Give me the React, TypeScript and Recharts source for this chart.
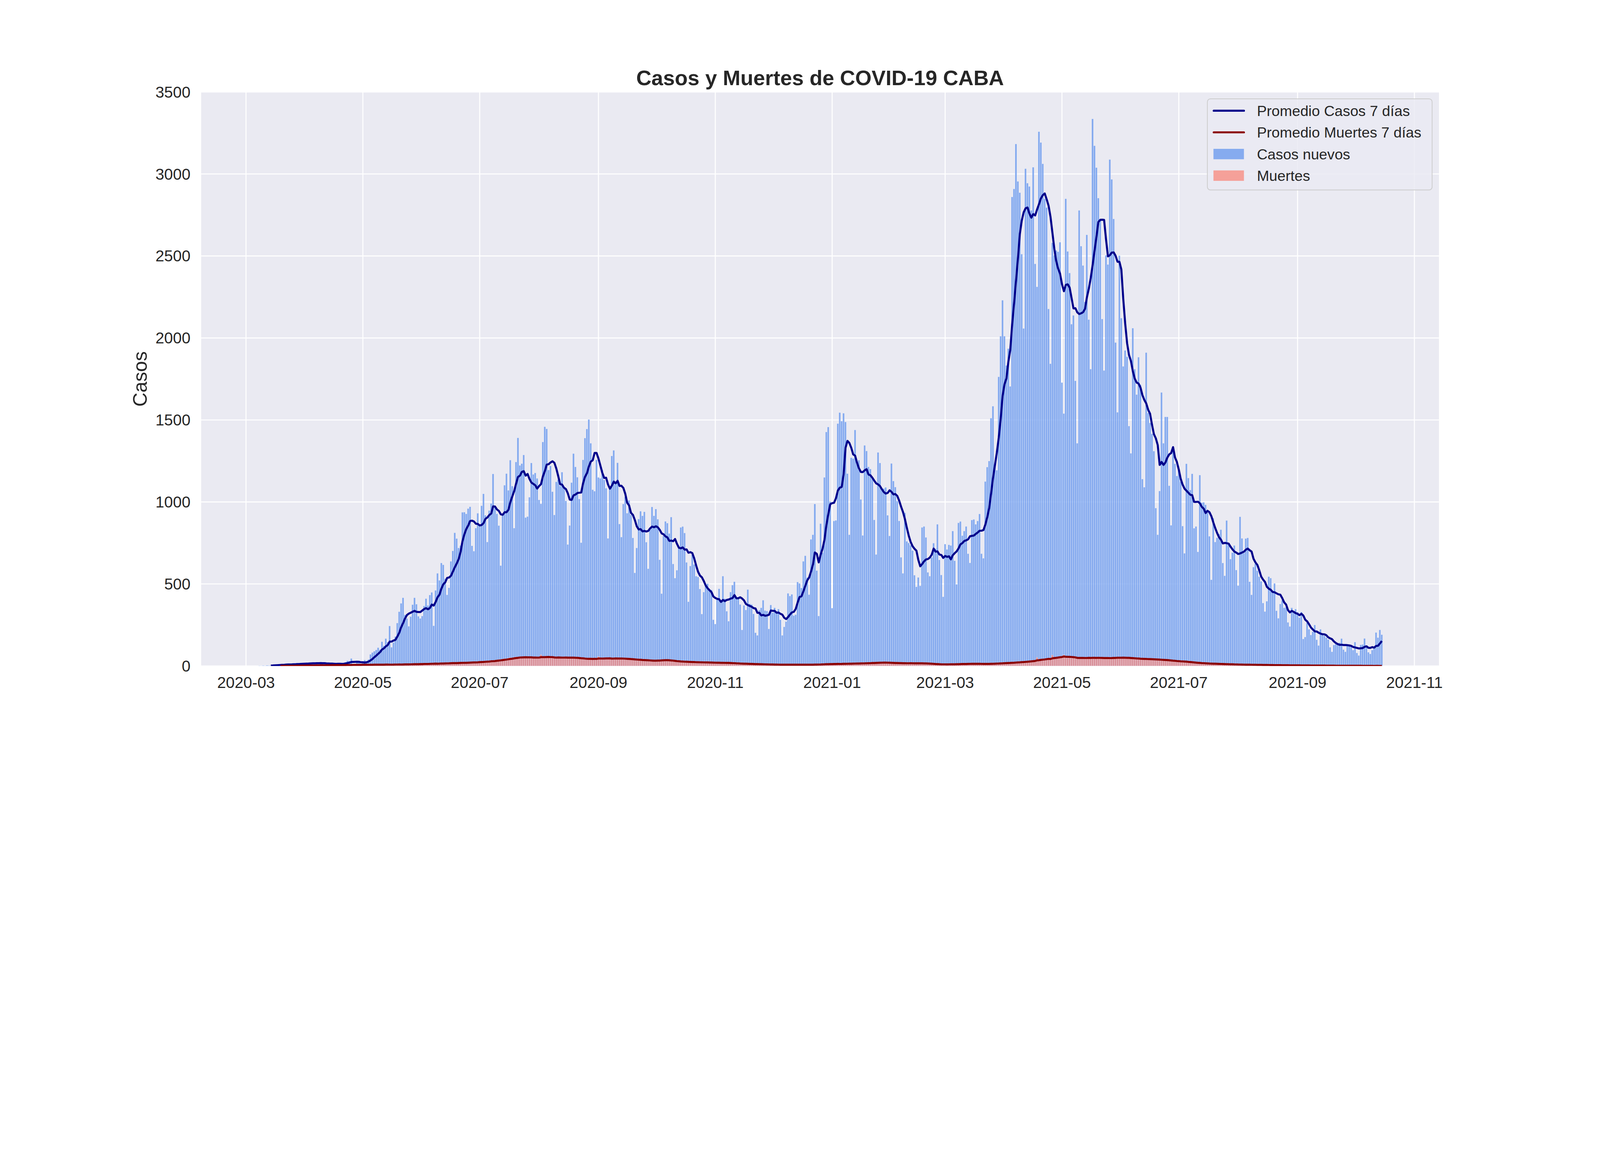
import React from "react";
import { ComposedChart, Bar, Line, XAxis, YAxis, CartesianGrid } from "recharts";

// daily reports, CABA
const CASES_FIRST_DAY = "2020-03-08";
const DEATHS_FIRST_DAY = "2020-03-13";

const casosNuevos = [
  // 2020-03-08 .. 2020-04-21
  2, 1, 3, 2, 4, 3,
  5, 4, 6, 8, 7, 9, 10, 8,
  12, 9, 11, 10, 14, 12, 13, 15, 16,
  14, 13, 17, 18, 16, 19, 18, 17, 15, 19, 16,
  14, 12, 15, 11, 13, 14, 12, 16, 12, 10, 18,
  // 2020-04-22 .. 2020-05-18
  24, 32, 31, 46, 13, 13, 22, 21, 13, 30, 36, 26, 40, 71, 82, 90, 98, 112, 100, 148,
  123, 167, 146, 244, 114, 143, 180,
  // 2020-05-19 .. 2020-07-29
  262, 331, 382, 416, 312, 290, 242, 301, 374, 416,
  377, 303, 290, 305, 366, 411, 369, 433, 449, 245,
  461, 565, 522, 628, 617, 533, 434, 477, 638, 702,
  812, 777, 720, 735, 937, 938, 928, 960, 971, 733,
  700, 841, 931, 863, 977, 1050, 919, 756, 948, 991,
  1171, 969, 928, 856, 612, 924, 1102, 1173, 1071, 1255,
  1097, 841, 1244, 1391, 1223, 1234, 1287, 905, 911, 1029,
  1238, 1168,
  // 2020-07-30 .. 2020-10-08
  1177, 1144, 1013, 989, 1366, 1459, 1446, 1195, 1220, 1063,
  921, 1123, 1135, 1098, 1182, 1085, 1007, 741, 857, 1118,
  1295, 1214, 1151, 1018, 752, 1257, 1390, 1445, 1503, 1358,
  1075, 1066, 1257, 1150, 1144, 1197, 1135, 1084, 778, 1079,
  1281, 1315, 1125, 1239, 866, 786, 988, 1030, 932, 1010,
  921, 781, 568, 720, 896, 944, 916, 940, 755, 593,
  832, 970, 916, 957, 895, 648, 441, 793, 882, 871,
  808,
  // 2020-10-09 .. 2020-12-19
  908, 622, 536, 584, 718, 845, 850, 811, 632, 392,
  610, 678, 619, 548, 543, 470, 317, 451, 487, 502,
  462, 464, 282, 256, 411, 471, 388, 548, 411, 334,
  273, 451, 493, 514, 415, 411, 375, 220, 370, 342,
  466, 379, 375, 318, 203, 187, 341, 355, 401, 338,
  335, 226, 372, 325, 355, 321, 347, 282, 187, 239,
  271, 443, 427, 437, 307, 313, 512, 504, 476, 638,
  672, 539,
  // 2020-12-20 .. 2021-02-28
  435, 772, 800, 988, 582, 305, 868, 691, 1150, 1427,
  1457, 1003, 353, 884, 888, 1478, 1545, 1493, 1541, 1488,
  1173, 800, 1270, 1265, 1439, 1236, 1255, 1016, 796, 1345,
  1311, 1214, 1201, 1151, 891, 680, 1302, 1238, 1077, 1082,
  1089, 919, 793, 1235, 1128, 1091, 1005, 885, 663, 565,
  934, 760, 750, 736, 704, 554, 483, 540, 489, 845,
  851, 784, 571, 548, 662, 749, 715, 864, 647, 555,
  422,
  // 2021-03-01 .. 2021-05-11
  743, 711, 739, 735, 823, 642, 498, 873, 881, 795,
  823, 851, 685, 629, 890, 894, 864, 884, 927, 685,
  657, 1125, 1213, 1250, 1511, 1584, 1233, 1194, 1763, 2011,
  2230, 2011, 1832, 1935, 1705, 2860, 2909, 3183, 2955, 2886,
  2511, 2058, 3032, 2944, 2924, 2778, 3041, 2452, 2312, 3258,
  3192, 3062, 2849, 2795, 2177, 1843, 2580, 2504, 2534, 2526,
  2584, 1728, 1539, 2849, 2528, 2396, 2084, 2138, 1739, 1358,
  2778, 2560,
  // 2021-05-12 .. 2021-07-21
  2442, 2220, 2629, 2112, 1810, 3336, 3172, 3039, 2853, 2720,
  2116, 1802, 2504, 2448, 3088, 2967, 2726, 1972, 1547, 2502,
  2121, 1827, 1924, 1886, 1463, 1297, 2060, 1810, 1655, 1883,
  1715, 1140, 1090, 1911, 1543, 1483, 1416, 1310, 963, 800,
  1067, 1668, 1358, 1519, 1519, 1099, 858, 1319, 1233, 1159,
  1190, 1125, 853, 687, 1233, 1146, 1073, 1172, 840, 851,
  696, 1164, 996, 998, 983, 935, 791, 526, 901, 756,
  782,
  // 2021-07-22 .. 2021-10-15
  805, 831, 628, 550, 887, 740, 652, 691, 735, 585,
  490, 910, 778, 689, 777, 781, 514, 434, 603, 624,
  581, 545, 516, 384, 332, 395, 545, 536, 451, 504,
  337, 291, 378, 400, 355, 357, 266, 241, 355, 335,
  347, 328, 295, 329, 165, 177, 263, 224, 189, 209,
  250, 160, 125, 224, 198, 184, 173, 162, 114, 87,
  128, 133, 137, 142, 167, 100, 87, 122, 122, 118,
  97, 146, 80, 64, 129, 131, 168, 122, 84, 74,
  97, 108, 204, 173, 220, 191,
];

const muertes = [
  0, 1, 0, 1, 1, 0, 2, 1, 1, 2,
  1, 2, 3, 2, 1, 3, 2, 4, 3, 2,
  4, 3, 5, 3, 4, 6, 4, 5, 3, 4,
  5, 6, 4, 7, 5, 6, 5, 4, 6, 7,
  6, 8, 5, 7, 6, 7, 9, 6, 8, 7,
  8, 7, 9, 8, 6, 10, 8, 9, 7, 8,
  9, 8, 10, 7, 9, 8, 11, 9, 10, 8,
  10, 12, 9, 11, 10, 13, 11, 12, 10, 14,
  12, 15, 13, 11, 16, 14, 15, 17, 13, 16,
  17, 15, 18, 16, 19, 17, 20, 18, 16, 21,
  19, 22, 20, 18, 23, 21, 24, 22, 25, 23,
  26, 28, 25, 30, 27, 31, 33, 30, 35, 37,
  39, 36, 42, 45, 41, 48, 51, 47, 53, 55,
  52, 56, 50, 54, 51, 49, 55, 52, 48, 50,
  53, 51, 68, 56, 50, 52, 54, 48, 51, 53,
  50, 55, 49, 52, 48, 53, 50, 51, 54, 49,
  47, 45, 44, 42, 46, 43, 41, 45, 44, 42,
  45, 43, 57, 44, 41, 47, 45, 44, 48, 46,
  45, 47, 44, 46, 43, 45, 42, 40, 41, 38,
  39, 36, 38, 35, 37, 34, 33, 35, 31, 32,
  30, 32, 34, 37, 35, 38, 36, 34, 33, 31,
  29, 28, 27, 26, 27, 25, 26, 24, 25, 23,
  24, 22, 23, 21, 22, 23, 21, 22, 20, 21,
  20, 19, 21, 18, 20, 19, 18, 20, 17, 19,
  17, 16, 15, 16, 14, 15, 13, 14, 12, 13,
  12, 11, 13, 10, 11, 10, 9, 11, 9, 10,
  9, 8, 9, 7, 8, 9, 8, 7, 8, 9,
  8, 7, 9, 8, 7, 8, 9, 8, 7, 8,
  9, 8, 7, 9, 8, 10, 9, 11, 10, 12,
  11, 13, 12, 11, 13, 12, 14, 13, 12, 14,
  15, 13, 14, 16, 15, 14, 17, 16, 15, 17,
  18, 16, 17, 19, 18, 20, 19, 21, 20, 22,
  21, 19, 20, 18, 19, 17, 18, 16, 17, 18,
  17, 16, 15, 17, 16, 18, 17, 16, 15, 17,
  16, 15, 14, 16, 13, 12, 11, 10, 9, 11,
  10, 9, 10, 11, 9, 10, 12, 11, 10, 12,
  13, 12, 14, 13, 12, 14, 13, 15, 14, 13,
  12, 13, 11, 12, 14, 13, 15, 14, 16, 15,
  17, 16, 18, 17, 19, 20, 19, 21, 22, 21,
  23, 25, 24, 27, 26, 29, 28, 31, 33, 32,
  35, 52, 37, 40, 42, 41, 45, 47, 46, 66,
  52, 51, 54, 56, 58, 68, 53, 49, 51, 48,
  50, 47, 49, 48, 51, 49, 47, 50, 52, 48,
  49, 51, 48, 50, 47, 49, 46, 48, 50, 47,
  51, 53, 50, 52, 49, 51, 50, 48, 49, 47,
  46, 44, 45, 43, 44, 42, 43, 41, 42, 40,
  41, 39, 38, 40, 37, 36, 35, 36, 34, 33,
  31, 29, 28, 30, 27, 28, 26, 27, 24, 22,
  21, 20, 19, 18, 19, 17, 16, 15, 16, 14,
  14, 13, 14, 12, 13, 12, 11, 12, 10, 11,
  10, 9, 10, 9, 8, 9, 8, 9, 8, 7,
  8, 7, 8, 7, 6, 7, 6, 7, 6, 5,
  6, 5, 6, 5, 5, 4, 5, 4, 5, 4,
  4, 5, 4, 3, 4, 3, 4, 3, 4, 3,
  3, 2, 3, 3, 2, 3, 2, 3, 2, 2,
  3, 2, 2, 1, 2, 2, 1, 2, 1, 2,
  1, 2, 1, 1, 2, 1, 1, 2, 1, 1,
  1, 0, 1, 1, 0, 1, 1, 0, 1, 1,
  0, 1,
];

const tickLabels = [
  "2020-03", "2020-05", "2020-07", "2020-09", "2020-11", "2021-01",
  "2021-03", "2021-05", "2021-07", "2021-09", "2021-11",
];
const yTicks = [0, 500, 1000, 1500, 2000, 2500, 3000, 3500];

const ORIGIN = Date.UTC(2020, 2, 1);
const DAY = 86400000;
const dayOf = (s: string) => {
  const [y, m, d] = s.split("-").map(Number);
  return Math.round((Date.UTC(y, m - 1, d || 1) - ORIGIN) / DAY);
};

const rolling7 = (vals: number[]) =>
  vals.map((_, i) => {
    if (i < 6) return null;
    let s = 0;
    for (let k = i - 6; k <= i; k++) s += vals[k];
    return s / 7;
  });

const casosAvg = rolling7(casosNuevos);
const muertesAvg = rolling7(muertes);
const c0 = dayOf(CASES_FIRST_DAY);
const m0 = dayOf(DEATHS_FIRST_DAY);

const data = casosNuevos.map((c, i) => {
  const day = c0 + i;
  const j = day - m0;
  const hasM = j >= 0 && j < muertes.length;
  return {
    day,
    casos: c,
    muertes: hasM ? muertes[j] : null,
    casosAvg: casosAvg[i],
    muertesAvg: hasM ? muertesAvg[j] : null,
  };
});

const tickDays = tickLabels.map(dayOf);
const labelOf = (d: number) => tickLabels[tickDays.indexOf(d)] ?? "";

const FONT = "'Liberation Sans', Arial, sans-serif";
const INK = "#262626";
const BLUE_BAR = "cornflowerblue";
const RED_BAR = "salmon";
const BLUE_LINE = "#00008b";
const RED_LINE = "#8b0000";

// the photographed viewport is ~4096 css px wide; draw in 6300-wide units and shrink
const SCALE = 4096 / 6300;

const legendItems = [
  { label: "Promedio Casos 7 días", kind: "line", color: BLUE_LINE, opacity: 1 },
  { label: "Promedio Muertes 7 días", kind: "line", color: RED_LINE, opacity: 1 },
  { label: "Casos nuevos", kind: "patch", color: BLUE_BAR, opacity: 0.75 },
  { label: "Muertes", kind: "patch", color: RED_BAR, opacity: 0.7 },
];

function LegendBox() {
  const x = 4754;
  const y = 389;
  return (
    <g>
      <rect x={x} y={y} width={885} height={359} rx={12} fill="#eaeaf2" fillOpacity={0.8} stroke="#cccccc" strokeWidth={3} />
      {legendItems.map((it, i) => {
        const cy = 436 + i * 85;
        return (
          <g key={it.label}>
            {it.kind === "line" ? (
              <line x1={x + 25} x2={x + 144} y1={cy} y2={cy} stroke={it.color} strokeWidth={8} strokeLinecap="round" />
            ) : (
              <rect x={x + 24} y={cy - 20} width={120} height={41} fill={it.color} fillOpacity={it.opacity} />
            )}
            <text x={x + 195} y={cy + 21} fontSize={58} fill={INK} fontFamily={FONT}>
              {it.label}
            </text>
          </g>
        );
      })}
    </g>
  );
}

export default function App() {
  return (
    <div
      style={{
        position: "absolute",
        left: 0,
        top: 0,
        width: 6300,
        height: 3000,
        background: "#ffffff",
        transform: `scale(${SCALE})`,
        transformOrigin: "0 0",
      }}
    >
      <ComposedChart
        width={6300}
        height={3000}
        data={data}
        margin={{ top: 362, right: 632, bottom: 258, left: 312 }}
        barGap={-7}
      >
        <CartesianGrid fill="#eaeaf2" fillOpacity={1} stroke="#ffffff" strokeWidth={4} />
        <XAxis
          dataKey="day"
          type="number"
          domain={[-23.7, 623.1]}
          allowDataOverflow
          ticks={tickDays}
          tickFormatter={labelOf}
          tickLine={false}
          axisLine={false}
          tickSize={0}
          tickMargin={42}
          height={120}
          tick={{ fontSize: 62, fill: INK, fontFamily: FONT }}
        />
        <YAxis
          type="number"
          domain={[0, 3500]}
          allowDataOverflow
          ticks={yTicks}
          tickLine={false}
          axisLine={false}
          tickSize={0}
          tickMargin={40}
          width={478}
          tick={{ fontSize: 62, fill: INK, fontFamily: FONT }}
          label={{ value: "Casos", angle: -90, position: "center", fontSize: 77, fill: INK, fontFamily: FONT }}
        />
        <Bar dataKey="casos" fill={BLUE_BAR} fillOpacity={0.78} stroke="#ffffff" strokeWidth={0.6} barSize={7} isAnimationActive={false} />
        <Bar dataKey="muertes" fill={RED_BAR} fillOpacity={0.7} stroke="#ffffff" strokeWidth={0.6} barSize={7} isAnimationActive={false} />
        <Line dataKey="casosAvg" type="linear" stroke={BLUE_LINE} strokeWidth={8} dot={false} strokeLinejoin="round" isAnimationActive={false} />
        <Line dataKey="muertesAvg" type="linear" stroke={RED_LINE} strokeWidth={8} dot={false} strokeLinejoin="round" isAnimationActive={false} />
      </ComposedChart>
      <svg width={6300} height={3000} style={{ position: "absolute", left: 0, top: 0, pointerEvents: "none" }}>
        <text x={3229} y={335} textAnchor="middle" fontSize={83} fontWeight="bold" fill={INK} fontFamily={FONT}>
          Casos y Muertes de COVID-19 CABA
        </text>
        <LegendBox />
      </svg>
    </div>
  );
}
